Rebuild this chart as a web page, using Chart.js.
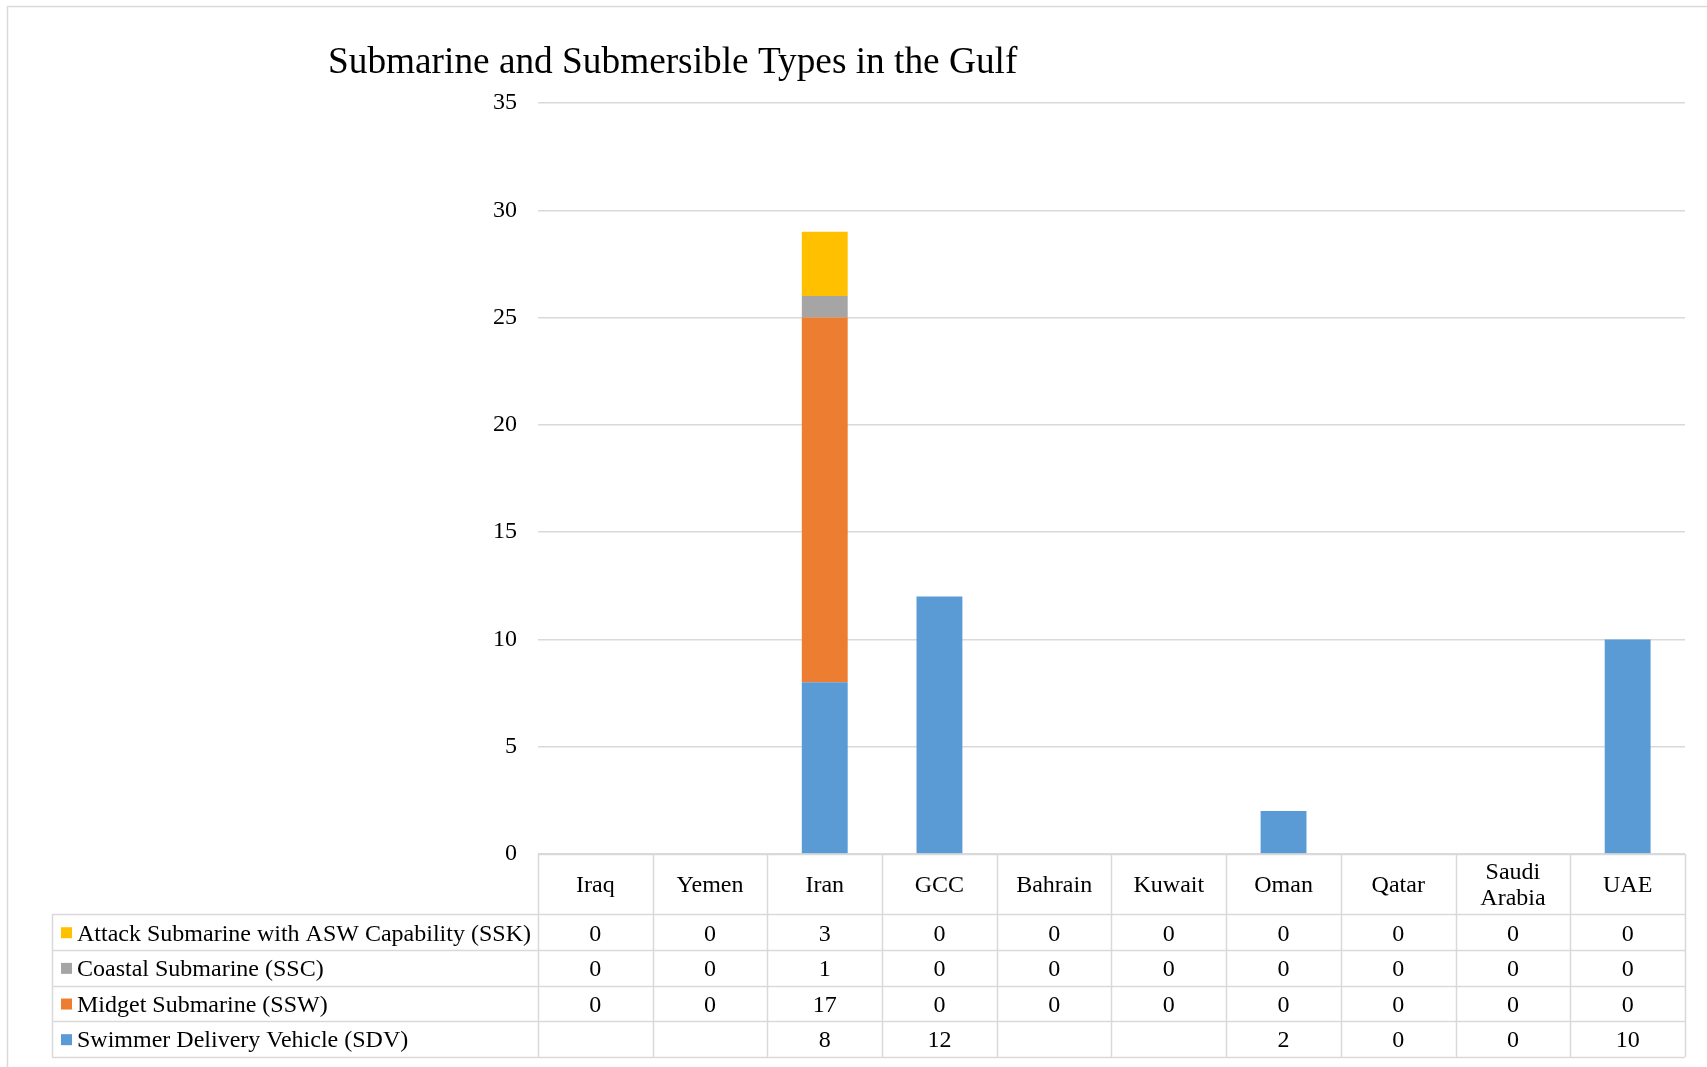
<!DOCTYPE html>
<html>
<head>
<meta charset="utf-8">
<script src="https://cdn.jsdelivr.net/npm/chart.js@4/dist/chart.umd.min.js"></script>
<style>
  html, body { margin: 0; padding: 0; background: #fff; }
  canvas { display: block; }
</style>
</head>
<body>
<canvas id="c" width="1707" height="1067"></canvas>
<script>
// ---- Data ----
const categories = ['Iraq', 'Yemen', 'Iran', 'GCC', 'Bahrain', 'Kuwait', 'Oman', 'Qatar', 'Saudi Arabia', 'UAE'];
const seriesNames = [
  'Swimmer Delivery Vehicle (SDV)',
  'Midget Submarine (SSW)',
  'Coastal Submarine (SSC)',
  'Attack Submarine with ASW Capability (SSK)'
];
const sdv = [null, null, 8, 12, null, null, 2, 0, 0, 10];
const ssw = [0, 0, 17, 0, 0, 0, 0, 0, 0, 0];
const ssc = [0, 0, 1, 0, 0, 0, 0, 0, 0, 0];
const ssk = [0, 0, 3, 0, 0, 0, 0, 0, 0, 0];
const yTicks = [0, 5, 10, 15, 20, 25, 30, 35];
const titleText = 'Submarine and Submersible Types in the Gulf';

const colors = ['#5B9BD5', '#ED7D31', '#A5A5A5', '#FFC000'];
const seriesData = [sdv, ssw, ssc, ssk];
const FONT = "'Liberation Serif', 'Times New Roman', serif";
const GRID = '#D9D9D9';

const tablePlugin = {
  id: 'dataTable',
  beforeDraw(chart) {
    const ctx = chart.ctx;
    ctx.save();
    ctx.fillStyle = '#fff';
    ctx.fillRect(0, 0, chart.width, chart.height);
    ctx.strokeStyle = GRID;
    ctx.lineWidth = 1.5;
    ctx.strokeRect(7.5, 6.5, chart.width + 10, chart.height + 10);
    ctx.restore();
  },
  afterDraw(chart) {
    const ctx = chart.ctx;
    const xs = chart.scales.x;
    const area = chart.chartArea;
    const n = categories.length;
    const colW = xs.getPixelForValue(1) - xs.getPixelForValue(0);
    const top = area.bottom;
    const headerBottom = 914.4;
    const rowH = 35.65;
    const legendLeft = 52;
    const nRows = seriesData.length;
    const bottom = headerBottom + rowH * nRows;

    ctx.save();
    ctx.strokeStyle = GRID;
    ctx.lineWidth = 1.5;
    // vertical lines
    for (let i = 0; i <= n; i++) {
      const x = Math.round(area.left + i * colW) + 0.5;
      ctx.beginPath();
      ctx.moveTo(x, top);
      ctx.lineTo(x, bottom);
      ctx.stroke();
    }
    ctx.beginPath();
    ctx.moveTo(legendLeft + 0.5, headerBottom);
    ctx.lineTo(legendLeft + 0.5, bottom);
    ctx.stroke();
    // horizontal lines
    ctx.beginPath();
    ctx.moveTo(area.left, Math.round(top) + 0.5);
    ctx.lineTo(area.right, Math.round(top) + 0.5);
    ctx.stroke();
    for (let r = 0; r <= nRows; r++) {
      const y = Math.round(headerBottom + r * rowH) + 0.5;
      ctx.beginPath();
      ctx.moveTo(legendLeft, y);
      ctx.lineTo(area.right, y);
      ctx.stroke();
    }

    // header labels
    ctx.fillStyle = '#000';
    ctx.font = '24px ' + FONT;
    ctx.textAlign = 'center';
    ctx.textBaseline = 'middle';
    const headMid = (top + headerBottom) / 2 + 2;
    categories.forEach((cat, i) => {
      const cx = xs.getPixelForValue(i);
      let lines = [cat];
      if (ctx.measureText(cat).width > colW - 8 && cat.indexOf(' ') > 0) {
        lines = cat.split(' ');
      }
      const lh = 26;
      lines.forEach((ln, k) => {
        const y = headMid + (k - (lines.length - 1) / 2) * lh;
        ctx.fillText(ln, cx, y);
      });
    });

    // rows: top row is last dataset
    for (let r = 0; r < nRows; r++) {
      const di = nRows - 1 - r;
      const yMid = headerBottom + r * rowH + rowH / 2 + 2;
      // legend key
      ctx.fillStyle = colors[di];
      ctx.fillRect(61, yMid - 7, 11, 11);
      ctx.fillStyle = '#000';
      ctx.textAlign = 'left';
      ctx.fillText(seriesNames[di], 77, yMid);
      ctx.textAlign = 'center';
      seriesData[di].forEach((v, i) => {
        if (v === null || v === undefined) return;
        ctx.fillText(String(v), xs.getPixelForValue(i), yMid);
      });
    }
    ctx.restore();
  }
};

new Chart(document.getElementById('c'), {
  type: 'bar',
  data: {
    labels: categories,
    datasets: seriesData.map((d, i) => ({
      label: seriesNames[i],
      data: d,
      backgroundColor: colors[i],
      borderWidth: 0,
      categoryPercentage: 1.0,
      barPercentage: 0.4
    }))
  },
  options: {
    responsive: false,
    animation: false,
    devicePixelRatio: 1,
    layout: { padding: { left: 328, right: 22, top: 8, bottom: 213 } },
    plugins: {
      legend: { display: false },
      tooltip: { enabled: false },
      title: {
        display: true,
        text: titleText,
        align: 'start',
        color: '#000',
        font: { family: FONT, size: 37.3, weight: 'normal', lineHeight: 1.2 },
        padding: { top: 33.3, bottom: 16.9 }
      }
    },
    scales: {
      x: {
        stacked: true,
        display: false
      },
      y: {
        stacked: true,
        min: 0,
        max: 35,
        afterFit(scale) { scale.width = 210; },
        afterBuildTicks(scale) { scale.ticks = yTicks.map(v => ({ value: v })); },
        grid: { color: GRID, lineWidth: 1.5, drawTicks: false },
        border: { display: false },
        ticks: {
          padding: 21,
          color: '#000',
          font: { family: FONT, size: 24 }
        }
      }
    }
  },
  plugins: [tablePlugin]
});
</script>
</body>
</html>
